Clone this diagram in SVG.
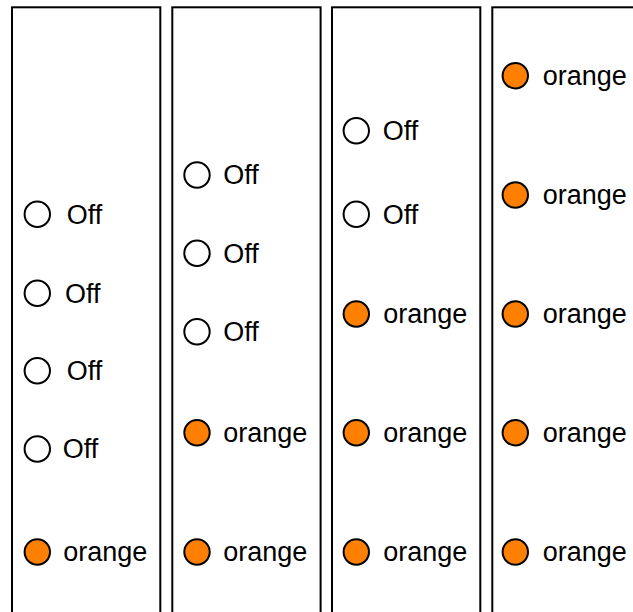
<svg xmlns="http://www.w3.org/2000/svg" width="633" height="612" viewBox="0 0 633 612">
<style>
.panel{fill:#fff;stroke:#000;stroke-width:2}
.off{fill:#fff;stroke:#000;stroke-width:2}
.on{fill:#ff8000;stroke:#000;stroke-width:2}
text{font-family:"Liberation Sans",Arial,sans-serif;font-size:27px;fill:#000}
</style>
<rect width="633" height="612" fill="#fff"/>
<g id="panel1">
<rect class="panel" x="12" y="7.3" width="148.3" height="620"/>
<circle class="off" cx="37.3" cy="214.3" r="12.7"/><text x="66.7" y="223.5">Off</text>
<circle class="off" cx="37.3" cy="293.3" r="12.7"/><text x="65" y="302.5">Off</text>
<circle class="off" cx="37.3" cy="370.7" r="12.7"/><text x="66.7" y="380">Off</text>
<circle class="off" cx="37.3" cy="449" r="12.7"/><text x="62.7" y="458.3">Off</text>
<circle class="on" cx="37.3" cy="552" r="12.7"/><text x="63.3" y="561.3">orange</text>
</g>
<g id="panel2">
<rect class="panel" x="172.3" y="7.3" width="148.3" height="620"/>
<circle class="off" cx="197" cy="175" r="12.7"/><text x="223.3" y="184.3">Off</text>
<circle class="off" cx="197" cy="253.3" r="12.7"/><text x="223.3" y="262.6">Off</text>
<circle class="off" cx="197" cy="331.7" r="12.7"/><text x="223.3" y="341">Off</text>
<circle class="on" cx="197" cy="432.7" r="12.7"/><text x="223.3" y="442">orange</text>
<circle class="on" cx="197" cy="552" r="12.7"/><text x="223.3" y="561.3">orange</text>
</g>
<g id="panel3">
<rect class="panel" x="332" y="7.3" width="148.3" height="620"/>
<circle class="off" cx="356.3" cy="130.7" r="12.7"/><text x="382.7" y="140">Off</text>
<circle class="off" cx="356.3" cy="214.3" r="12.7"/><text x="382.7" y="223.6">Off</text>
<circle class="on" cx="356.3" cy="314" r="12.7"/><text x="383.3" y="323.3">orange</text>
<circle class="on" cx="356.3" cy="432.7" r="12.7"/><text x="383.3" y="442">orange</text>
<circle class="on" cx="356.3" cy="552" r="12.7"/><text x="383.3" y="561.3">orange</text>
</g>
<g id="panel4">
<rect class="panel" x="492.3" y="7.3" width="148.3" height="620"/>
<circle class="on" cx="515.3" cy="75.7" r="12.7"/><text x="542.7" y="85">orange</text>
<circle class="on" cx="515.3" cy="195" r="12.7"/><text x="542.7" y="204.3">orange</text>
<circle class="on" cx="515.3" cy="314" r="12.7"/><text x="542.7" y="323.3">orange</text>
<circle class="on" cx="515.3" cy="432.7" r="12.7"/><text x="542.7" y="442">orange</text>
<circle class="on" cx="515.3" cy="552" r="12.7"/><text x="542.7" y="561.3">orange</text>
</g>
<g id="connectors"></g>
</svg>
